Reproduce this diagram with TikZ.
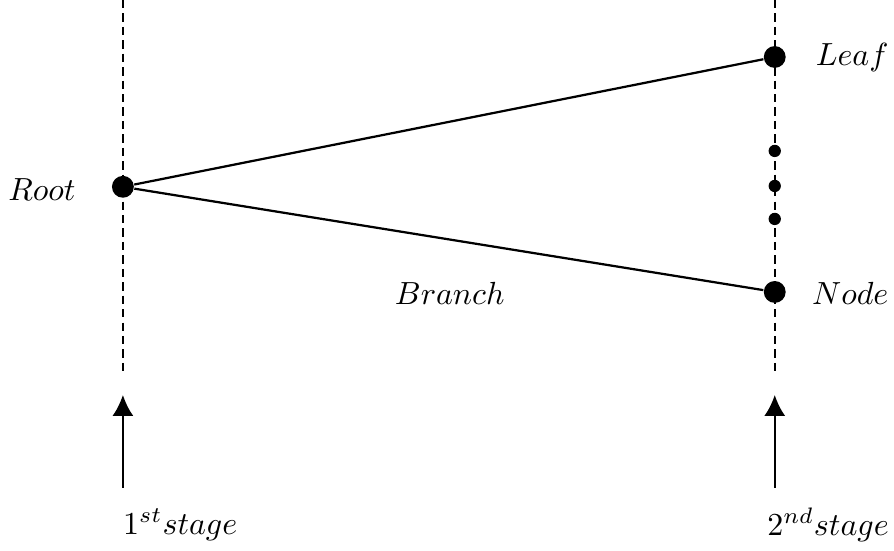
\documentclass[tikz,border=0pt]{standalone}
\usetikzlibrary{arrows.meta}
\tikzset{
  bigdot/.style={circle,fill=black,inner sep=0pt,minimum size=2.4mm},
  smalldot/.style={circle,fill=black,inner sep=0pt,minimum size=1.35mm},
  stageline/.style={line width=0.7pt,dash pattern=on 2.6pt off 1.6pt},
  stagearrow/.style={line width=0.7pt,-{Latex[length=2.3mm,width=2.3mm]}}
}
\begin{document}
\begin{tikzpicture}[x=1mm, y=1mm]
\useasboundingbox (0,0) rectangle (98.2,60.52);

% stages
\draw[stageline] (13.5,60.52) -- (13.5,19.33);
\draw[stageline] (85.1,60.52) -- (85.1,19.33);

% tree
\node[bigdot] (root) at (13.5,40) {};
\node[bigdot] (leaf) at (85.1,54.26) {};
\node[bigdot] (node) at (85.1,28.45) {};
\node[smalldot] (dotA) at (85.1,43.94) {};
\node[smalldot] (dotB) at (85.1,40.09) {};
\node[smalldot] (dotC) at (85.1,36.47) {};

\draw[line width=0.7pt] (root) -- (leaf);
\draw[line width=0.7pt] (root) -- (node);

\node (rootlbl) at (4.6,39.7) {$Root$};
\node (leaflbl) at (93.6,54.15) {$Leaf$};
\node (nodelbl) at (93.4,28.3) {$Node$};
\node (branchlbl) at (49.4,28.3) {$Branch$};

% arrows
\coordinate (tipA) at (13.5,17.14);
\coordinate (tipB) at (85.1,17.14);
\coordinate (tailA) at (13.5,6.92);
\coordinate (tailB) at (85.1,6.92);
\draw[stagearrow] (tailA) -- (tipA);
\draw[stagearrow] (tailB) -- (tipB);

\node (stageA) at (19.8,2.9) {$1^{st}stage$};
\node (stageB) at (90.95,2.9) {$2^{nd}stage$};

\end{tikzpicture}
\end{document}
